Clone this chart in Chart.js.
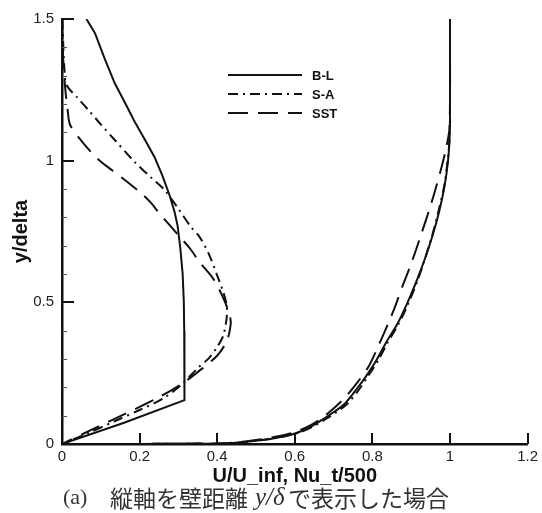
<!DOCTYPE html>
<html>
<head>
<meta charset="utf-8">
<script src="https://cdn.jsdelivr.net/npm/chart.js@4/dist/chart.umd.min.js"></script>
<style>
  html, body { margin: 0; padding: 0; background: #fff; }
  canvas { display: block; }
</style>
</head>
<body>
<canvas id="c" width="542" height="513"></canvas>
<script>
// Tick values and labels
const xTickValues = [0, 0.2, 0.4, 0.6, 0.8, 1.0, 1.2];
const xTickLabels = ['0', '0.2', '0.4', '0.6', '0.8', '1', '1.2'];
const yTickValues = [0, 0.5, 1.0, 1.5];
const yTickLabels = ['0', '0.5', '1', '1.5'];
const yMinorTicks = [0.1, 0.2, 0.3, 0.4, 0.6, 0.7, 0.8, 0.9, 1.1, 1.2, 1.3, 1.4];

// Turbulence models
const modelNames = ['B-L', 'S-A', 'SST'];

// Eddy viscosity profiles, Nu_t/500 against y/delta
const blNuX = [0.063, 0.085, 0.110, 0.136, 0.162, 0.187, 0.213, 0.238, 0.258, 0.277, 0.290, 0.298, 0.305, 0.311, 0.314, 0.315, 0.316, 0.316, 0.315, 0.160, 0];
const blNuY = [1.500, 1.450, 1.360, 1.273, 1.205, 1.138, 1.076, 1.014, 0.950, 0.879, 0.820, 0.770, 0.690, 0.600, 0.500, 0.400, 0.300, 0.200, 0.155, 0.075, 0];

const saNuX = [0.001, 0.003, 0.006, 0.012, 0.040, 0.068, 0.100, 0.136, 0.187, 0.230, 0.264, 0.300, 0.332, 0.354, 0.378, 0.401, 0.416, 0.425, 0.424, 0.415, 0.400, 0.380, 0.350, 0.307, 0.260, 0.200, 0.140, 0.070, 0];
const saNuY = [1.500, 1.420, 1.330, 1.267, 1.222, 1.179, 1.128, 1.073, 0.996, 0.940, 0.897, 0.830, 0.767, 0.732, 0.672, 0.591, 0.535, 0.485, 0.440, 0.380, 0.343, 0.305, 0.268, 0.208, 0.160, 0.120, 0.083, 0.040, 0];

const sstNuX = [0.000, 0.003, 0.008, 0.015, 0.021, 0.050, 0.093, 0.130, 0.162, 0.204, 0.230, 0.251, 0.281, 0.303, 0.330, 0.354, 0.392, 0.418, 0.431, 0.435, 0.426, 0.405, 0.383, 0.362, 0.311, 0.250, 0.153, 0.070, 0];
const sstNuY = [1.500, 1.360, 1.260, 1.173, 1.126, 1.070, 1.005, 0.965, 0.932, 0.885, 0.850, 0.814, 0.767, 0.732, 0.690, 0.643, 0.579, 0.508, 0.460, 0.426, 0.367, 0.320, 0.290, 0.267, 0.214, 0.165, 0.100, 0.046, 0];

// Velocity profiles, U/U_inf against y/delta
const blUX = [0, 0.200, 0.350, 0.431, 0.516, 0.560, 0.602, 0.640, 0.670, 0.700, 0.730, 0.760, 0.783, 0.810, 0.834, 0.865, 0.890, 0.915, 0.937, 0.956, 0.972, 0.986, 0.995, 0.999, 1.000, 1.000];
const blUY = [0, 0.0003, 0.0012, 0.0025, 0.014, 0.024, 0.038, 0.060, 0.085, 0.112, 0.144, 0.195, 0.238, 0.295, 0.355, 0.425, 0.497, 0.579, 0.660, 0.740, 0.820, 0.910, 1.000, 1.080, 1.150, 1.500];

const saUX = [0, 0.200, 0.350, 0.431, 0.516, 0.562, 0.606, 0.645, 0.676, 0.707, 0.737, 0.767, 0.788, 0.815, 0.838, 0.868, 0.893, 0.917, 0.937, 0.955, 0.970, 0.985, 0.994, 0.999, 1.000, 1.000];
const saUY = [0, 0.0003, 0.0012, 0.0025, 0.014, 0.024, 0.038, 0.060, 0.085, 0.112, 0.144, 0.195, 0.238, 0.295, 0.355, 0.425, 0.497, 0.579, 0.660, 0.740, 0.820, 0.910, 1.000, 1.080, 1.150, 1.500];

const sstUX = [0, 0.200, 0.350, 0.431, 0.520, 0.560, 0.600, 0.640, 0.670, 0.700, 0.730, 0.760, 0.790, 0.815, 0.841, 0.860, 0.877, 0.901, 0.927, 0.952, 0.975, 0.991, 0.999, 1.000];
const sstUY = [0, 0.0004, 0.0015, 0.0035, 0.018, 0.028, 0.042, 0.066, 0.092, 0.125, 0.165, 0.215, 0.273, 0.345, 0.426, 0.490, 0.555, 0.640, 0.745, 0.850, 0.960, 1.050, 1.120, 1.500];

const toPoints = (xs, ys) => xs.map((v, i) => ({ x: v, y: ys[i] }));

const INK = '#111';
const lineDash = { 'B-L': [], 'S-A': [10, 5, 2, 5], 'SST': [20, 10] };

function series(name, xs, ys, tension) {
  return {
    label: name,
    data: toPoints(xs, ys),
    showLine: true,
    borderColor: INK,
    backgroundColor: INK,
    borderWidth: 2,
    borderDash: lineDash[name],
    pointRadius: 0,
    pointHoverRadius: 0,
    tension: tension,
    fill: false
  };
}

function segment(ctx, x1, y1, x2, y2) {
  ctx.beginPath();
  ctx.moveTo(x1, y1);
  ctx.lineTo(x2, y2);
  ctx.stroke();
}

// Model legend, axis ticks pointing into the plot and the caption
const decorations = {
  id: 'decorations',
  beforeDraw(chart) {
    const ctx = chart.ctx;
    ctx.save();
    ctx.fillStyle = '#fff';
    ctx.fillRect(0, 0, chart.width, chart.height);
    ctx.restore();
  },
  afterDraw(chart) {
    const ctx = chart.ctx;
    const a = chart.chartArea;
    const xs = chart.scales.x;
    const ys = chart.scales.y;
    ctx.save();
    ctx.setLineDash([]);
    ctx.globalAlpha = 1;
    ctx.strokeStyle = INK;
    ctx.lineCap = 'butt';

    // major ticks
    ctx.lineWidth = 2;
    for (const v of xTickValues) {
      const px = Math.round(xs.getPixelForValue(v));
      segment(ctx, px, a.bottom, px, a.bottom - 11);
    }
    for (const v of yTickValues) {
      const py = Math.round(ys.getPixelForValue(v));
      segment(ctx, a.left, py, a.left + 12, py);
    }
    // minor ticks
    ctx.lineWidth = 1;
    ctx.strokeStyle = '#555';
    for (const v of yMinorTicks) {
      const py = Math.round(ys.getPixelForValue(v)) + 0.5;
      segment(ctx, a.left, py, a.left + 5, py);
    }

    // legend
    ctx.strokeStyle = INK;
    ctx.fillStyle = INK;
    ctx.lineWidth = 2;
    ctx.font = 'bold 13px "Liberation Sans", Arial, sans-serif';
    ctx.textBaseline = 'middle';
    ctx.textAlign = 'left';
    const legendY = [75, 94, 113];
    modelNames.forEach((name, i) => {
      ctx.setLineDash(lineDash[name]);
      segment(ctx, 228, legendY[i], 302, legendY[i]);
      ctx.setLineDash([]);
      ctx.fillText(name, 312, legendY[i] + 1);
    });

    // caption
    const cy = 498;
    ctx.fillStyle = '#333';
    ctx.font = '22px "Liberation Serif", "DejaVu Serif", serif';
    ctx.fillText('(a)', 63, cy);
    ctx.font = '23px "Noto Sans CJK JP", sans-serif';
    ctx.fillText('縦軸を壁距離', 110, cy);
    ctx.font = 'italic 25px "Liberation Serif", "DejaVu Serif", serif';
    const sym = 'y/δ';
    const symX = 255;
    ctx.fillText(sym, symX, cy);
    const symEnd = symX + ctx.measureText(sym).width;
    ctx.font = '23px "Noto Sans CJK JP", sans-serif';
    ctx.fillText('で表示した場合', Math.max(symEnd + 1, 288), cy);
    ctx.restore();
  }
};

new Chart(document.getElementById('c'), {
  type: 'scatter',
  data: {
    datasets: [
      series('B-L', blNuX, blNuY, 0),
      series('S-A', saNuX, saNuY, 0.3),
      series('SST', sstNuX, sstNuY, 0.3),
      series('B-L', blUX, blUY, 0.3),
      series('S-A', saUX, saUY, 0.3),
      series('SST', sstUX, sstUY, 0.3)
    ]
  },
  options: {
    responsive: false,
    animation: false,
    events: [],
    layout: { padding: { top: 19, right: 12, left: 0, bottom: 0 } },
    plugins: {
      legend: { display: false },
      tooltip: { enabled: false },
      title: { display: false }
    },
    scales: {
      x: {
        type: 'linear',
        min: 0,
        max: 1.2,
        ticks: {
          stepSize: 0.2,
          padding: 4,
          color: '#222',
          font: { family: '"Liberation Sans", Arial, sans-serif', size: 15 },
          maxRotation: 0,
          callback: (v, i) => xTickLabels[i]
        },
        grid: { display: false, drawTicks: false },
        border: { display: true, color: INK, width: 2.5 },
        title: {
          display: true,
          text: 'U/U_inf, Nu_t/500',
          color: INK,
          font: { family: '"Liberation Sans", Arial, sans-serif', size: 20, weight: 'bold' },
          padding: { top: 0, bottom: 25 }
        },
        afterFit: s => { s.height = 69; }
      },
      y: {
        type: 'linear',
        min: 0,
        max: 1.5,
        ticks: {
          stepSize: 0.5,
          padding: 8,
          color: '#222',
          font: { family: '"Liberation Sans", Arial, sans-serif', size: 15 },
          callback: (v, i) => yTickLabels[i]
        },
        grid: { display: false, drawTicks: false },
        border: { display: true, color: INK, width: 2.5 },
        title: {
          display: true,
          text: 'y/delta',
          color: INK,
          font: { family: '"Liberation Sans", Arial, sans-serif', size: 20, weight: 'bold' },
          padding: { top: 9, bottom: 0 }
        },
        afterFit: s => { s.width = 62; }
      }
    }
  },
  plugins: [decorations]
});
</script>
</body>
</html>
